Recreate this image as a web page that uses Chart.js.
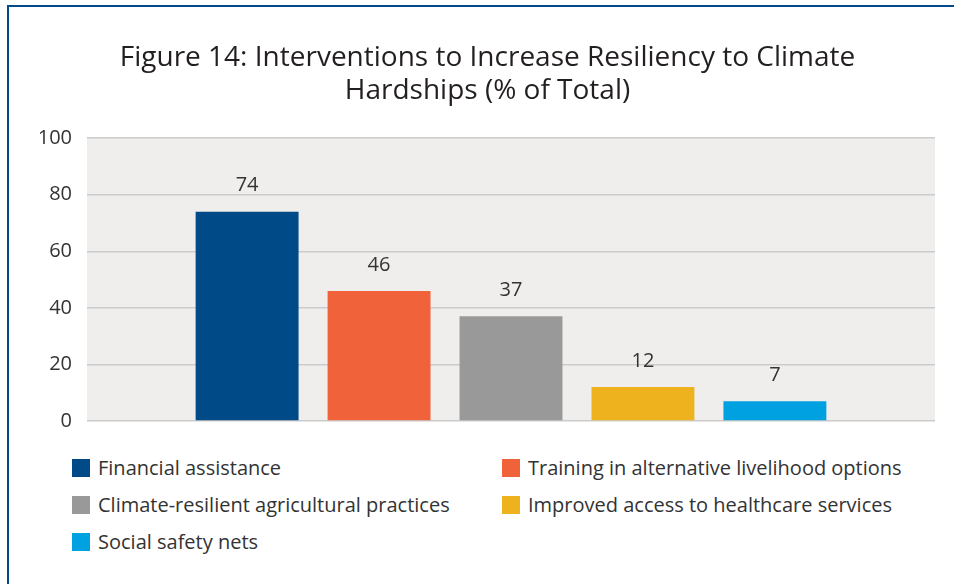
<!DOCTYPE html>
<html>
<head>
<meta charset="utf-8">
<script src="https://cdn.jsdelivr.net/npm/chart.js@4/dist/chart.umd.min.js"></script>
<style>
    html, body { margin: 0; padding: 0; background: #fff; overflow: hidden; }
    body { width: 954px; height: 584px; position: relative; font-family: "Open Sans", Lato, sans-serif; }
    .frame { position: absolute; left: 7px; top: 5px; width: 1000px; height: 1000px; border-left: 2px solid #004a8d; border-top: 2px solid #004a8d; }
    #chart { position: absolute; left: 0; top: 0; }
    #legend { position: absolute; left: 72px; top: 456px; display: grid; grid-template-columns: 430px auto; row-gap: 14px; }
    .item { display: flex; align-items: center; font-size: 20px; color: #333; line-height: 23px; }
    .swatch { width: 18px; height: 18px; margin-right: 8px; flex: none; }
</style>
</head>
<body>
<div class="frame"></div>
<canvas id="chart" width="954" height="450"></canvas>
<div id="legend"></div>
<script>
const titleLines = ['Figure 14: Interventions to Increase Resiliency to Climate', 'Hardships (% of Total)'];
const categories = [
    'Financial assistance',
    'Training in alternative livelihood options',
    'Climate-resilient agricultural practices',
    'Improved access to healthcare services',
    'Social safety nets'
];
const values = [74, 46, 37, 12, 7];
const colors = ['#004a87', '#f0623a', '#999999', '#eeb21e', '#00a1e0'];
const yTicks = [0, 20, 40, 60, 80, 100];

const fontFamily = '"Open Sans", Lato, sans-serif';

const plotBackground = {
    id: 'plotBackground',
    beforeDraw(chart) {
        const { ctx, chartArea } = chart;
        ctx.save();
        ctx.fillStyle = '#efeeed';
        ctx.fillRect(chartArea.left, chartArea.top, chartArea.right - chartArea.left, chartArea.bottom - chartArea.top);
        ctx.restore();
    }
};

const valueLabels = {
    id: 'valueLabels',
    afterDatasetsDraw(chart) {
        const ctx = chart.ctx;
        ctx.save();
        ctx.font = '20px ' + fontFamily;
        ctx.fillStyle = '#333';
        ctx.textAlign = 'center';
        ctx.textBaseline = 'middle';
        chart.data.datasets.forEach((ds, i) => {
            const bar = chart.getDatasetMeta(i).data[0];
            ctx.fillText(ds.data[0], bar.x, bar.y - 26);
        });
        ctx.restore();
    }
};

new Chart(document.getElementById('chart').getContext('2d'), {
    type: 'bar',
    data: {
        labels: [''],
        datasets: categories.map((name, i) => ({
            label: name,
            data: [values[i]],
            backgroundColor: colors[i],
            borderWidth: 0
        }))
    },
    options: {
        responsive: false,
        animation: false,
        devicePixelRatio: 1,
        categoryPercentage: 0.778,
        barPercentage: 0.78,
        layout: { padding: { top: 41, right: 19, bottom: 29, left: 40 } },
        scales: {
            x: { display: false },
            y: {
                min: 0,
                max: 100,
                afterBuildTicks: scale => { scale.ticks = yTicks.map(v => ({ value: v })); },
                afterFit: scale => { scale.width = 47; },
                border: { display: false },
                grid: { color: '#cbcbcb', lineWidth: 1.5, drawTicks: false },
                ticks: {
                    padding: 15,
                    color: '#333',
                    font: { family: fontFamily, size: 20 }
                }
            }
        },
        plugins: {
            legend: { display: false },
            tooltip: { enabled: false },
            title: {
                display: true,
                text: titleLines,
                color: '#231f20',
                font: { family: fontFamily, size: 28, weight: 'normal', lineHeight: 1.2 },
                padding: { top: 0, bottom: 30 }
            }
        }
    },
    plugins: [plotBackground, valueLabels]
});

// legend built from the same arrays, laid out in two columns
const legendBox = document.getElementById('legend');
categories.forEach((name, i) => {
    const item = document.createElement('div');
    item.className = 'item';
    item.innerHTML = `<span class="swatch" style="background:${colors[i]}"></span><span>${name}</span>`;
    legendBox.appendChild(item);
});
</script>
</body>
</html>
